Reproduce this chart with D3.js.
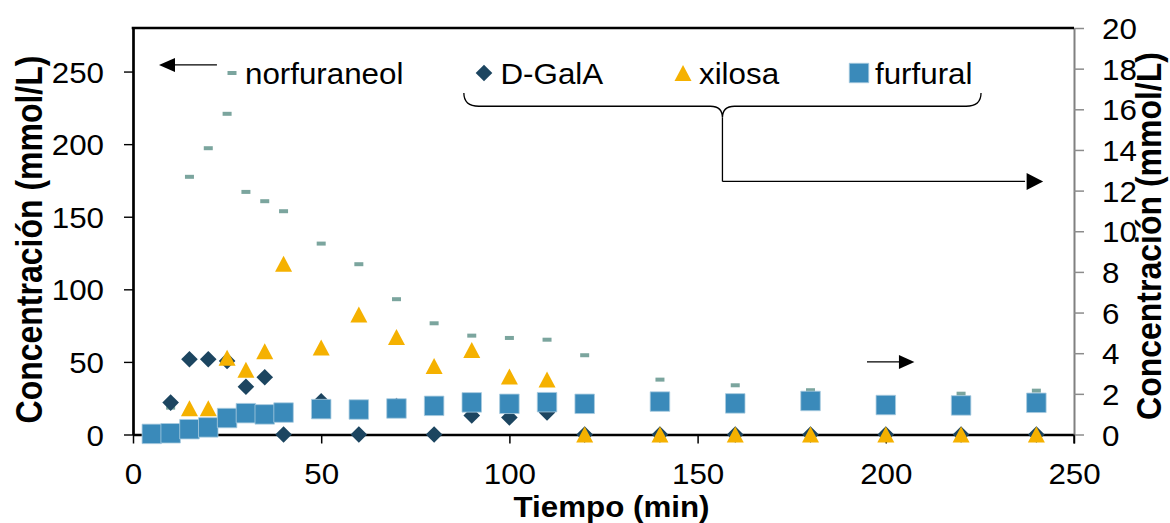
<!DOCTYPE html>
<html>
<head>
<meta charset="utf-8">
<script src="https://cdn.jsdelivr.net/npm/d3@7"></script>
<style>
  html, body { margin: 0; padding: 0; background: #fff; }
  svg { display: block; }
</style>
</head>
<body>
<svg id="chart" width="1170" height="523"></svg>
<script>
// Sampling times (min)
const times = [5, 10, 15, 20, 25, 30, 35, 40, 50, 60, 70, 80, 90, 100, 110, 120, 140, 160, 180, 200, 220, 240];

// Concentrations (mmol/L); norfuraneol on the left axis, the rest on the right axis
const norfuraneol = [3, 18.5, 177.5, 197.2, 220.9, 167.1, 160.7, 153.8, 131.5, 117.3, 93.2, 76.6, 68.1, 66.5, 65.3, 54.6, 37.8, 33.9, 30.5, 21, 28.1, 30.2];
const dGalA       = [0, 1.57, 3.70, 3.70, 3.62, 2.35, 2.82, 0, 1.63, 0, 1.40, 0, 0.94, 0.84, 1.08, 0, 0, 0, 0, 0, 0, 0];
const xilosa      = [0, 0, 1.29, 1.29, 3.77, 3.18, 4.10, 8.40, 4.28, 5.90, 4.80, 3.37, 4.16, 2.85, 2.70, 0, 0, 0, 0, 0, 0, 0];
const furfural    = [0.03, 0.06, 0.26, 0.35, 0.81, 1.05, 0.99, 1.08, 1.25, 1.23, 1.28, 1.41, 1.58, 1.51, 1.59, 1.51, 1.62, 1.53, 1.65, 1.45, 1.43, 1.56];

const seriesNames = ["norfuraneol", "D-GalA", "xilosa", "furfural"];

// Axis ticks
const timeTicks  = [0, 50, 100, 150, 200, 250];
const leftTicks  = [0, 50, 100, 150, 200, 250];
const rightTicks = [0, 2, 4, 6, 8, 10, 12, 14, 16, 18, 20];

const xTitle = "Tiempo (min)";
const yTitle = "Concentración (mmol/L)";

// ---- layout & scales ----
const svg = d3.select("#chart");
const FONT = "'Liberation Sans', Arial, Helvetica, sans-serif";
const SX = 1.08; // horizontal text stretch

const x  = d3.scaleLinear().domain([0, 250]).range([133, 1074]);
const yL = d3.scaleLinear().domain([0, 280]).range([434.5, 28]);
const yR = d3.scaleLinear().domain([0, 20]).range([434.5, 28]);

// ---- marker shapes ----
function diamondPath(r) {
  const p = d3.path();
  p.moveTo(0, -r); p.lineTo(r, 0); p.lineTo(0, r); p.lineTo(-r, 0); p.closePath();
  return p.toString();
}
function trianglePath(w, h) {
  const p = d3.path();
  p.moveTo(0, -h / 2); p.lineTo(w / 2, h / 2); p.lineTo(-w / 2, h / 2); p.closePath();
  return p.toString();
}
function rectPath(w, h) {
  const p = d3.path();
  p.rect(-w / 2, -h / 2, w, h);
  return p.toString();
}

const styles = {
  "norfuraneol": { d: rectPath(9, 4),        fill: "#7BA59E", stroke: "none" },
  "D-GalA":      { d: diamondPath(8.3),      fill: "#1C4560", stroke: "none" },
  "xilosa":      { d: trianglePath(17, 16),  fill: "#F5B100", stroke: "none" },
  "furfural":    { d: rectPath(19.5, 19.5),  fill: "#3A8ABA", stroke: "#A9CBE0" }
};

// ---- axes ----
function styleAxisText(g, transformFn, anchor) {
  g.attr("font-family", FONT).attr("font-size", 29);
  g.selectAll(".tick text")
    .attr("x", null).attr("y", null).attr("dy", null)
    .attr("fill", "#000")
    .attr("text-anchor", anchor)
    .attr("transform", transformFn);
}

// bottom axis
const gx = svg.append("g")
  .attr("transform", `translate(0,${yL(0)})`)
  .call(d3.axisBottom(x).tickValues(timeTicks).tickSize(9).tickSizeOuter(0).tickFormat(d3.format("d")));
gx.select(".domain").attr("stroke", "#000").attr("stroke-width", 2.7);
gx.selectAll(".tick line").attr("stroke", "#000").attr("stroke-width", 1.5);
styleAxisText(gx, () => `translate(0,49) scale(${SX},1)`, "middle");

// left axis
const gl = svg.append("g")
  .attr("transform", `translate(${x(0)},0)`)
  .call(d3.axisLeft(yL).tickValues(leftTicks).tickSize(9).tickSizeOuter(0).tickFormat(d3.format("d")));
gl.select(".domain").attr("stroke", "#000").attr("stroke-width", 2.7);
gl.selectAll(".tick line").attr("stroke", "#000").attr("stroke-width", 1.4);
styleAxisText(gl, () => `translate(-29,10.6) scale(${SX},1)`, "end");

// right axis
const gr = svg.append("g")
  .attr("transform", `translate(${x(250)},0)`)
  .call(d3.axisRight(yR).tickValues(rightTicks).tickSize(10).tickSizeOuter(0).tickFormat(d3.format("d")));
gr.select(".domain").attr("stroke", "#808080").attr("stroke-width", 2);
gr.selectAll(".tick line").attr("stroke", "#8c8c8c").attr("stroke-width", 1.5);
styleAxisText(gr, () => `translate(28,10.6) scale(${SX},1)`, "start");

// top frame line
svg.append("line")
  .attr("x1", x(0) - 1.3).attr("x2", x(250))
  .attr("y1", yL(280)).attr("y2", yL(280))
  .attr("stroke", "#000").attr("stroke-width", 2.7);

// closing tick at the end of the time axis
svg.append("line")
  .attr("x1", x(250)).attr("x2", x(250))
  .attr("y1", yL(0)).attr("y2", yL(0) + 9)
  .attr("stroke", "#000").attr("stroke-width", 1.5);

// ---- series ----
const seriesData = [
  { name: "norfuraneol", values: norfuraneol, y: yL },
  { name: "D-GalA",      values: dGalA,       y: yR },
  { name: "xilosa",      values: xilosa,      y: yR },
  { name: "furfural",    values: furfural,    y: yR }
];

seriesData.forEach(s => {
  const st = styles[s.name];
  svg.append("g").attr("class", "series")
    .selectAll("path")
    .data(times.map((t, i) => ({ t, v: s.values[i] })))
    .join("path")
    .attr("d", st.d)
    .attr("transform", d => `translate(${x(d.t)},${s.y(d.v)})`)
    .attr("fill", st.fill)
    .attr("stroke", st.stroke)
    .attr("stroke-width", st.stroke === "none" ? 0 : 0.8);
});

// ---- legend ----
const legendPos = [
  { name: "norfuraneol", mx: 232, tx: 245 },
  { name: "D-GalA",      mx: 484, tx: 500.5 },
  { name: "xilosa",      mx: 683, tx: 699 },
  { name: "furfural",    mx: 859, tx: 875 }
];
const legendY = 73;
const lg = svg.append("g").attr("class", "legend");
legendPos.forEach((p, i) => {
  const st = styles[seriesNames[i]];
  lg.append("path").attr("d", st.d)
    .attr("transform", `translate(${p.mx},${legendY})`)
    .attr("fill", st.fill).attr("stroke", st.stroke)
    .attr("stroke-width", st.stroke === "none" ? 0 : 0.8);
  lg.append("text")
    .attr("transform", `translate(${p.tx},${legendY + 10.5}) scale(${SX},1)`)
    .attr("font-family", FONT).attr("font-size", 29).attr("fill", "#000")
    .text(seriesNames[i]);
});

// ---- arrows and brace showing which axis each series uses ----
const ann = svg.append("g").attr("class", "annotations")
  .attr("stroke", "#000").attr("stroke-width", 1.3).attr("fill", "none");

function arrowHead(tipX, tipY, dir, len, half) {
  const p = d3.path();
  p.moveTo(tipX, tipY);
  p.lineTo(tipX - dir * len, tipY - half);
  p.lineTo(tipX - dir * len, tipY + half);
  p.closePath();
  svg.append("path").attr("d", p.toString()).attr("fill", "#000");
}

// left-pointing arrow: norfuraneol -> left axis
{
  const yA = yL(254.6);
  ann.append("line").attr("x1", x(22.3)).attr("x2", x(8)).attr("y1", yA).attr("y2", yA);
  arrowHead(x(6.9), yA, -1, 16, 7);
}

// brace over the three right-axis series, then arrow to the right axis
{
  const xl = x(87.9), xm = x(156.6), xr = x(225.3);
  const yTop = yR(16.8), yMid = yR(16.15), yCusp = yR(15.58), yArrow = yR(12.45);
  const p = d3.path();
  p.moveTo(xl, yTop);
  p.quadraticCurveTo(xl, yMid, xl + 15, yMid);
  p.lineTo(xm - 12, yMid);
  p.quadraticCurveTo(xm, yMid, xm, yCusp);
  p.quadraticCurveTo(xm, yMid, xm + 12, yMid);
  p.lineTo(xr - 15, yMid);
  p.quadraticCurveTo(xr, yMid, xr, yTop);
  ann.append("path").attr("d", p.toString());
  ann.append("line").attr("x1", xm).attr("x2", xm).attr("y1", yCusp).attr("y2", yArrow);
  ann.append("line").attr("x1", xm).attr("x2", x(237)).attr("y1", yArrow).attr("y2", yArrow);
  arrowHead(x(241.8), yArrow, 1, 16.5, 8.5);
}

// small right-pointing arrow near the right axis
{
  const yB = yR(3.57);
  ann.append("line").attr("x1", x(195)).attr("x2", x(204)).attr("y1", yB).attr("y2", yB);
  arrowHead(x(207.6), yB, 1, 15.5, 7);
}

// ---- axis titles ----
svg.append("text")
  .attr("transform", `translate(${(x(0) + x(250)) / 2 + 8},516.5) scale(${SX},1)`)
  .attr("text-anchor", "middle")
  .attr("font-family", FONT).attr("font-size", 29).attr("font-weight", "bold")
  .text(xTitle);

svg.append("text")
  .attr("transform", `translate(42,239.5) rotate(-90) scale(1,1.14)`)
  .attr("text-anchor", "middle")
  .attr("font-family", FONT).attr("font-size", 32).attr("font-weight", "bold")
  .text(yTitle);

svg.append("text")
  .attr("transform", `translate(1161,236) rotate(-90) scale(1,1.1)`)
  .attr("text-anchor", "middle")
  .attr("font-family", FONT).attr("font-size", 32).attr("font-weight", "bold")
  .text(yTitle);
</script>
</body>
</html>
